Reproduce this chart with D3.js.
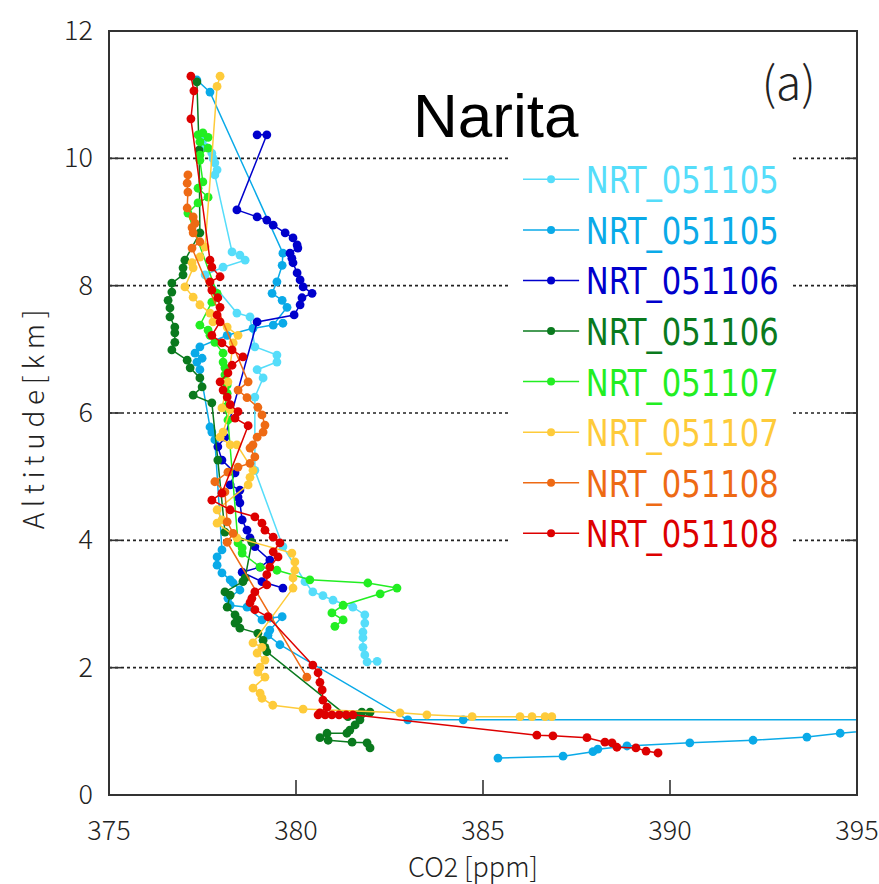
<!DOCTYPE html>
<html>
<head>
<meta charset="utf-8">
<script src="https://cdn.jsdelivr.net/npm/d3@7"></script>
<style>
  body { margin: 0; background: #fff; }
  .tick-label { font-family: "Noto Sans CJK JP", "DejaVu Sans", sans-serif; font-weight: 300; fill: #222; }
</style>
</head>
<body>
<div id="chart"></div>
<script>
// == data: [CO2 ppm, altitude km] per flight ==
var labels = ["NRT_051105", "NRT_051105", "NRT_051106", "NRT_051106",
              "NRT_051107", "NRT_051107", "NRT_051108", "NRT_051108"];

var xTicks = [375, 380, 385, 390, 395];
var yTicks = [0, 2, 4, 6, 8, 10, 12];

var nrt051105a = [
  [377.51,10.29],[377.57,10.18],[377.75,10.08],[377.78,10.00],[377.83,9.93],[377.89,9.82],
  [377.83,9.74],[378.29,8.53],[378.50,8.48],[378.64,8.40],[378.05,8.29],[377.57,8.17],
  [378.42,7.57],[378.77,7.51],[378.90,7.04],[379.49,6.91],[379.49,6.80],[378.96,6.68],
  [379.12,6.55],[378.90,6.25],[378.90,5.10],[379.65,3.90],[380.24,3.35],[380.45,3.19],
  [380.72,3.13],[380.99,3.06],[381.52,2.95],[381.84,2.83],[381.84,2.70],[381.79,2.56],
  [381.79,2.47],[381.79,2.32],[381.84,2.20],[381.90,2.09],[382.17,2.10]
];

var nrt051105b = [
  [377.35,11.23],[377.70,11.04],[379.65,8.51],[379.63,8.32],[379.49,8.06],[379.36,7.88],
  [379.63,7.77],[379.76,7.66],[379.39,7.38],[379.65,7.41],[378.85,7.33],[378.16,7.22],
  [377.43,7.04],[377.30,6.94],[377.49,6.86],[377.35,6.80],[377.43,6.68],[377.70,5.78],
  [377.75,5.70],[377.83,5.58],[378.02,3.85],[377.89,3.74],[377.89,3.61],[378.02,3.49],
  [378.24,3.38],[378.32,3.33],[378.50,3.22],[378.18,3.09],[378.24,2.98],[378.69,2.95],
  [379.09,2.75],[379.30,2.78],[379.63,2.80],[379.30,2.59],[379.25,2.51],[379.57,2.36],
  [382.99,1.18],[384.47,1.18],[400.50,1.18],[396.80,1.09],[394.55,0.97],[393.66,0.91],
  [392.22,0.86],[390.53,0.82],[388.85,0.77],[388.07,0.72],[387.94,0.68],[387.14,0.61],
  [385.40,0.58]
];

var nrt051106a = [
  [378.96,10.37],[379.22,10.37],[378.42,9.19],[378.96,9.08],[379.22,9.03],[379.39,8.95],
  [379.71,8.83],[379.92,8.75],[380.03,8.64],[380.05,8.59],[379.84,8.51],[379.89,8.43],
  [379.92,8.36],[380.03,8.20],[380.11,8.09],[380.19,7.98],[380.43,7.88],[380.16,7.81],
  [380.11,7.70],[379.95,7.54],[378.96,7.43],[378.10,5.62],[377.91,5.47],[378.02,5.26],
  [378.37,5.06],[378.24,4.87],[378.50,4.79],[378.45,4.68],[378.50,4.59],[378.56,4.32],
  [378.69,4.16],[378.77,4.04],[378.90,3.90],[379.30,3.69],[379.04,3.58],[378.56,3.50],
  [379.09,3.35],[379.65,3.25]
];

var nrt051106b = [
  [377.35,11.20],[377.41,10.13],[377.43,8.83],[377.03,8.40],[376.98,8.28],[376.98,8.17],
  [376.68,8.04],[376.68,7.90],[376.58,7.77],[376.63,7.65],[376.63,7.51],[376.76,7.35],
  [376.76,7.26],[376.76,7.11],[376.68,6.99],[377.09,6.83],[377.17,6.71],[377.43,6.55],
  [377.49,6.41],[377.25,6.28],[377.75,6.16],[377.91,5.26],[378.10,4.13],[378.82,3.97],
  [378.64,3.41],[378.58,3.35],[378.10,3.19],[378.24,3.14],[378.16,2.95],[378.37,2.83],
  [378.45,2.75],[378.37,2.70],[378.50,2.62],[378.98,2.54],[379.12,2.43],[379.17,2.32],
  [379.22,2.25],[381.39,1.23],[381.63,1.26],[381.76,1.30],[381.98,1.30],[381.71,1.18],
  [381.58,1.10],[381.44,1.02],[381.36,0.97],[380.83,0.97],[380.64,0.90],[380.86,0.86],
  [381.50,0.83],[381.90,0.82],[381.98,0.74]
];

var nrt051107a = [
  [377.38,10.37],[377.51,10.40],[377.65,10.33],[377.43,10.26],[377.65,10.16],[377.43,10.05],
  [377.43,9.97],[377.51,9.63],[377.38,9.53],[377.65,9.39],[377.38,9.30],[377.11,9.14],
  [377.89,7.88],[377.75,7.74],[377.43,7.38],[377.65,7.30],[377.70,7.22],[377.83,7.11],
  [378.05,6.94],[378.05,6.80],[378.10,6.71],[378.10,6.60],[378.16,6.44],[378.16,6.31],
  [378.10,6.09],[378.18,5.89],[378.45,3.96],[378.56,3.88],[378.56,3.80],[379.04,3.58],
  [379.49,3.53],[380.37,3.38],[381.92,3.33],[382.70,3.25],[382.25,3.16],[381.26,2.98],
  [380.96,2.86],[381.26,2.75],[381.04,2.65]
];

var nrt051107b = [
  [377.97,11.29],[377.89,11.13],[377.57,8.61],[377.43,8.45],[377.22,8.36],[377.25,8.28],
  [377.03,7.98],[377.25,7.82],[377.43,7.70],[377.70,7.57],[377.78,7.43],[378.16,7.35],
  [378.45,7.22],[378.32,7.10],[378.18,6.49],[378.02,6.08],[378.24,6.05],[378.05,5.70],
  [377.97,5.62],[378.24,5.50],[378.42,5.50],[378.85,5.10],[378.77,4.99],[378.72,4.87],
  [377.89,4.48],[378.02,4.32],[377.89,4.27],[378.42,4.04],[379.89,3.80],[379.97,3.66],
  [379.97,3.53],[379.92,3.41],[379.92,3.25],[378.85,2.39],[379.09,2.32],[378.96,2.23],
  [379.17,2.12],[379.04,2.01],[378.98,1.93],[379.17,1.85],[378.85,1.68],[379.04,1.60],
  [379.09,1.52],[379.38,1.41],[380.19,1.35],[382.78,1.29],[383.50,1.26],[384.71,1.23],
  [385.99,1.23],[386.31,1.23],[386.66,1.23],[386.84,1.23]
];

var nrt051108a = [
  [377.11,9.74],[377.09,9.61],[377.11,9.47],[377.09,9.22],[377.25,9.08],[377.30,8.98],
  [377.22,8.91],[377.25,8.83],[377.43,8.69],[377.22,8.59],[378.72,6.49],[378.45,6.36],
  [378.69,6.24],[378.98,6.09],[379.09,5.97],[379.17,5.81],[379.12,5.70],[378.96,5.62],
  [378.85,5.50],[378.77,5.45],[378.90,5.31],[378.77,5.21],[378.45,5.15],[378.18,5.07],
  [377.83,4.92],[378.10,4.76],[378.16,4.29],[378.32,4.11],[378.16,3.97],[380.29,1.85]
];

var nrt051108b = [
  [377.19,11.29],[377.27,11.06],[377.19,10.62],[377.70,8.40],[377.75,8.29],[377.97,8.14],
  [377.70,8.06],[377.75,7.93],[377.91,7.81],[377.97,7.66],[377.89,7.54],[377.97,7.43],
  [377.75,7.22],[378.02,7.10],[378.29,6.99],[378.58,6.88],[378.29,6.75],[378.18,6.63],
  [377.97,6.49],[378.05,6.36],[378.16,6.25],[378.24,6.13],[378.45,6.02],[378.37,5.92],
  [378.72,5.80],[378.02,4.74],[377.75,4.63],[378.24,4.48],[378.90,4.37],[379.09,4.27],
  [379.17,4.16],[379.39,4.05],[379.57,3.96],[379.39,3.82],[379.52,3.74],[379.30,3.58],
  [379.22,3.46],[379.22,3.30],[378.90,3.19],[378.82,3.09],[378.77,3.02],[378.90,2.91],
  [379.25,2.80],[380.45,2.04],[380.59,1.92],[380.64,1.77],[380.70,1.65],[380.72,1.49],
  [380.83,1.38],[380.64,1.29],[380.59,1.26],[380.78,1.26],[380.96,1.26],[381.15,1.26],
  [381.34,1.26],[381.52,1.26],[386.44,0.94],[386.87,0.93],[387.78,0.90],[388.26,0.83],
  [388.45,0.82],[388.58,0.75],[389.09,0.74],[389.36,0.69],[389.68,0.66]
];

var allSeries = [nrt051105a, nrt051105b, nrt051106a, nrt051106b,
                 nrt051107a, nrt051107b, nrt051108a, nrt051108b];
var colors = ["#55ddfa", "#0aaae8", "#0000cc", "#0a7a1e",
              "#22ee22", "#fecb3a", "#ee6a14", "#dd0000"];

// == d3 boilerplate ==
var W = 879, H = 884;
var margin = { top: 31, right: 22, bottom: 89, left: 109 };
var width = W - margin.left - margin.right,
    height = H - margin.top - margin.bottom;

var svg = d3.select("#chart").append("svg")
  .attr("width", W).attr("height", H);

var g = svg.append("g")
  .attr("transform", "translate(" + margin.left + "," + margin.top + ")");

var x = d3.scaleLinear().domain([375, 395]).range([0, width]);
var y = d3.scaleLinear().domain([0, 12]).range([height, 0]);

svg.append("defs").append("clipPath").attr("id", "plotclip")
  .append("rect").attr("width", width).attr("height", height);

// -- grid lines --
g.append("g").selectAll("line")
  .data(yTicks.filter(function (d) { return d > 0 && d < 12; }))
  .enter().append("line")
  .attr("x1", 0).attr("x2", width)
  .attr("y1", function (d) { return y(d); })
  .attr("y2", function (d) { return y(d); })
  .attr("stroke", "#222").attr("stroke-width", 1.6)
  .attr("stroke-dasharray", "3,3");

// -- profiles --
var line = d3.line()
  .x(function (d) { return x(d[0]); })
  .y(function (d) { return y(d[1]); });

var plot = g.append("g").attr("clip-path", "url(#plotclip)");

allSeries.forEach(function (s, i) {
  var sg = plot.append("g");
  sg.append("path")
    .datum(s)
    .attr("d", line)
    .attr("fill", "none")
    .attr("stroke", colors[i])
    .attr("stroke-width", 1.5);
  sg.selectAll("circle")
    .data(s)
    .enter().append("circle")
    .attr("cx", function (d) { return x(d[0]); })
    .attr("cy", function (d) { return y(d[1]); })
    .attr("r", 4.4)
    .attr("fill", colors[i]);
});

// -- legend --
var legend = g.append("g");
legend.append("rect")
  .attr("x", x(385.67)).attr("y", y(10.1))
  .attr("width", x(393.21) - x(385.67)).attr("height", y(3.75) - y(10.1))
  .attr("fill", "#fff");

var legRow = d3.scaleLinear().domain([0, 7]).range([y(9.67), y(4.11)]);

var leg = legend.selectAll("g.item")
  .data(labels)
  .enter().append("g")
  .attr("class", "item")
  .attr("transform", function (d, i) { return "translate(0," + legRow(i) + ")"; });

leg.append("line")
  .attr("x1", x(386.07)).attr("x2", x(387.57))
  .attr("stroke", function (d, i) { return colors[i]; })
  .attr("stroke-width", 1.5);
leg.append("circle")
  .attr("cx", x(386.82)).attr("r", 4)
  .attr("fill", function (d, i) { return colors[i]; });
leg.append("text")
  .text(function (d) { return d; })
  .attr("x", x(387.75))
  .attr("y", 14)
  .attr("textLength", 193)
  .attr("lengthAdjust", "spacingAndGlyphs")
  .style("font-family", "'DejaVu Sans', sans-serif")
  .style("font-size", "38px")
  .attr("fill", function (d, i) { return colors[i]; });

// -- frame and ticks --
g.append("rect")
  .attr("width", width).attr("height", height)
  .attr("fill", "none").attr("stroke", "#333").attr("stroke-width", 2);

g.append("g").selectAll("line")
  .data(xTicks.filter(function (d) { return d > 375 && d < 395; }))
  .enter().append("line")
  .attr("x1", function (d) { return x(d); }).attr("x2", function (d) { return x(d); })
  .attr("y1", height).attr("y2", height - 15)
  .attr("stroke", "#333").attr("stroke-width", 1.6);

[0, width].forEach(function (xx, k) {
  g.append("g").selectAll("line")
    .data(yTicks.filter(function (d) { return d > 0 && d < 12; }))
    .enter().append("line")
    .attr("x1", xx).attr("x2", k === 0 ? xx + 12 : xx - 12)
    .attr("y1", function (d) { return y(d); })
    .attr("y2", function (d) { return y(d); })
    .attr("stroke", "#333").attr("stroke-width", 1.6);
});

// -- tick labels --
g.append("g").selectAll("text")
  .data(xTicks).enter().append("text")
  .attr("class", "tick-label")
  .attr("x", function (d) { return x(d); })
  .attr("y", height + 45)
  .attr("text-anchor", "middle")
  .style("font-size", "27px")
  .text(function (d) { return d; });

g.append("g").selectAll("text")
  .data(yTicks).enter().append("text")
  .attr("class", "tick-label")
  .attr("x", -16)
  .attr("y", function (d) { return y(d) + 9; })
  .attr("text-anchor", "end")
  .style("font-size", "27px")
  .text(function (d) { return d; });

// -- axis titles --
svg.append("text")
  .attr("class", "tick-label")
  .attr("transform", "translate(44," + (margin.top + y(5.9)) + ") rotate(-90)")
  .attr("text-anchor", "middle")
  .attr("textLength", 220)
  .attr("lengthAdjust", "spacing")
  .style("font-size", "28px")
  .text("Altitude[km]");

svg.append("text")
  .attr("class", "tick-label")
  .attr("x", 473)
  .attr("y", 877)
  .attr("text-anchor", "middle")
  .attr("textLength", 130)
  .attr("lengthAdjust", "spacingAndGlyphs")
  .style("font-size", "27px")
  .text("CO2 [ppm]");

// -- titles --
g.append("text")
  .attr("x", x(383.13))
  .attr("y", y(10.335))
  .style("font-family", "'Liberation Sans', Arial, sans-serif")
  .style("font-size", "62px")
  .attr("fill", "#000")
  .text("Narita");

g.append("text")
  .attr("x", x(392.45))
  .attr("y", y(10.92))
  .attr("class", "tick-label")
  .style("font-size", "46px")
  .attr("fill", "#000")
  .text("(a)");
</script>
</body>
</html>
